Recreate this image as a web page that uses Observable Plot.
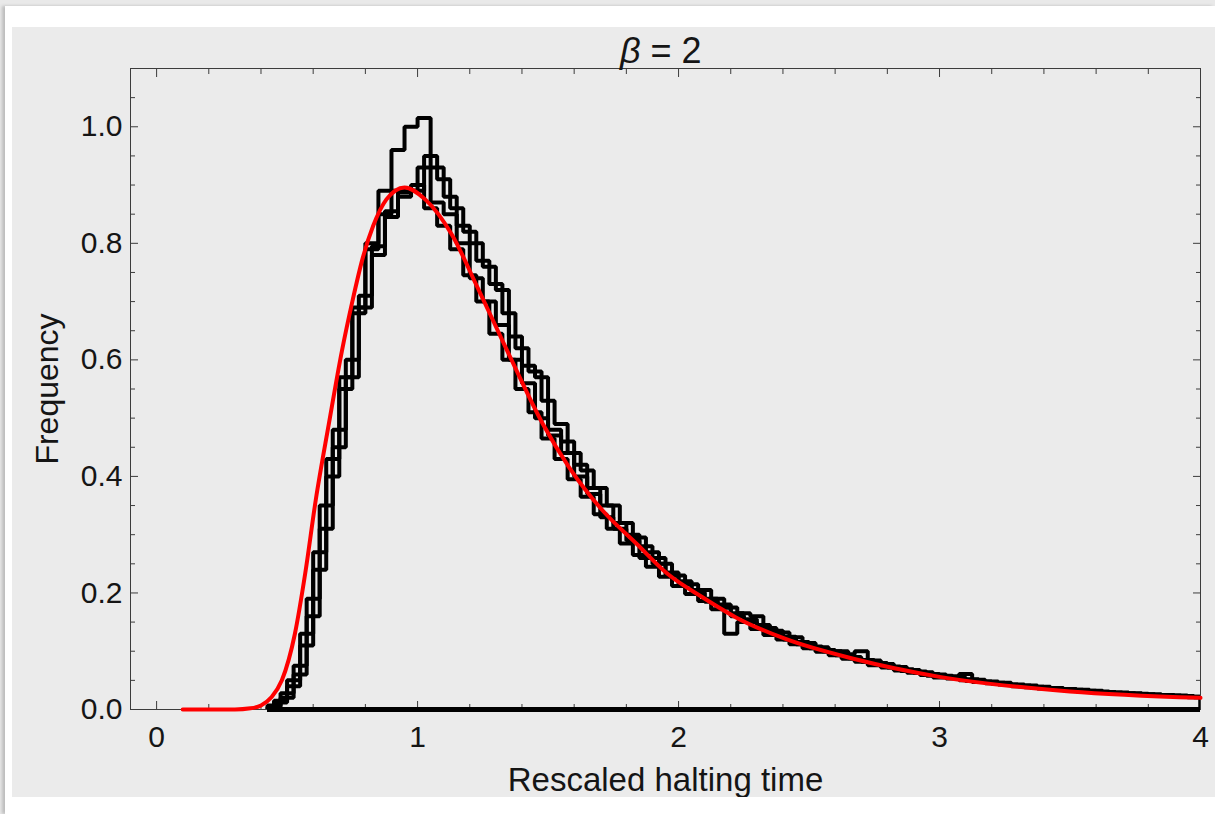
<!DOCTYPE html>
<html><head><meta charset="utf-8">
<script src="https://cdn.jsdelivr.net/npm/d3@7"></script>
<script src="https://cdn.jsdelivr.net/npm/@observablehq/plot@0.6"></script>
<style>
html,body{margin:0;padding:0;background:#e9e9e9;width:1215px;height:814px;overflow:hidden;}
#card{position:absolute;left:5px;top:6px;width:1210px;height:808px;background:#fff;box-shadow:-3px 0 3px #bdbdbd;}
#panel{position:absolute;left:12px;top:27px;width:1203px;height:770px;background:#ebebeb;overflow:hidden;}
#chart{position:absolute;left:-12px;top:-27px;width:1215px;height:814px;}
#chart svg{max-width:none !important;}
</style></head>
<body><div id="card"></div><div id="panel"><div id="chart"></div></div>
<script>
// ---- data ----
const binWidth = 0.05;
const histStarts = [0.45, 0.45, 0.425, 0.425];
const hist1 = [.015,.05,.13,.27,.43,.57,.68,.79,.85,.96,1.00,1.015,.87,.85,.80,.74,.70,.66,.60,.56,.50,.47,.44,.40,.37,.33,.31,.29,.26,.25,.23,.215,.20,.185,.175,.16,.15,.14,.13,.12,.112,.105,.10,.093,.088,.082,.077,.072,.066,.063,.058,.056,.054,.049,.047,.044,.042,.040,.037,.036,.034,.033,.031,.029,.028,.027,.026,.025,.024,.023,.021];
const hist2 = [.012,.04,.11,.24,.40,.55,.69,.80,.89,.89,.89,.93,.93,.88,.83,.80,.76,.72,.64,.59,.57,.48,.46,.42,.38,.35,.32,.30,.28,.26,.235,.22,.205,.19,.18,.165,.155,.145,.135,.125,.116,.108,.102,.10,.09,.085,.08,.074,.069,.065,.061,.058,.055,.052,.048,.046,.043,.041,.039,.037,.035,.034,.032,.031,.029,.028,.027,.026,.025,.024,.022];
const hist3 = [.007,.028,.075,.19,.35,.48,.60,.71,.795,.855,.887,.90,.86,.83,.79,.745,.70,.645,.60,.55,.51,.465,.43,.395,.365,.335,.31,.285,.265,.245,.228,.212,.198,.186,.172,.13,.15,.138,.128,.12,.112,.105,.099,.093,.087,.082,.076,.072,.067,.063,.059,.055,.053,.05,.047,.045,.043,.04,.038,.036,.035,.033,.031,.03,.029,.027,.026,.025,.024,.023,.022,.021];
const hist4 = [.004,.02,.06,.16,.31,.45,.57,.69,.78,.845,.88,.89,.95,.91,.86,.82,.77,.73,.68,.62,.58,.53,.49,.44,.41,.38,.35,.32,.295,.27,.25,.23,.215,.205,.19,.175,.165,.16,.14,.132,.124,.114,.107,.10,.095,.10,.084,.078,.073,.068,.064,.06,.057,.061,.051,.048,.046,.043,.041,.039,.037,.035,.034,.032,.030,.029,.028,.026,.025,.024,.023,.022];
const histograms = [hist1, hist2, hist3, hist4];

const curveX = [0.10,0.30,0.36,0.40,0.44,0.48,0.53,0.57,0.61,0.66,0.71,0.75,0.79,0.83,0.88,0.95,1.03,1.13,1.23,1.34,1.48,1.58,1.71,1.84,1.96,2.09,2.22,2.41,2.67,3.00,3.50,4.00];
const curveY = [0,0,0.002,0.007,0.021,0.05,0.13,0.235,0.36,0.49,0.615,0.70,0.775,0.83,0.875,0.896,0.875,0.816,0.724,0.619,0.49,0.416,0.341,0.284,0.232,0.193,0.158,0.121,0.087,0.056,0.031,0.020];

const xMajor = [0, 1, 2, 3, 4];
const xTickLabels = ["0", "1", "2", "3", "4"];
const xMinor = [0.2,0.4,0.6,0.8,1.2,1.4,1.6,1.8,2.2,2.4,2.6,2.8,3.2,3.4,3.6,3.8];
const yMajor = [0, 0.2, 0.4, 0.6, 0.8, 1.0];
const yTickLabels = ["0.0", "0.2", "0.4", "0.6", "0.8", "1.0"];
const yMinor = [0.05,0.1,0.15,0.25,0.3,0.35,0.45,0.5,0.55,0.65,0.7,0.75,0.85,0.9,0.95,1.05];
const xDomain = [-0.1, 4];
const yDomain = [0, 1.1];
const titleSymbol = "β";
const titleRest = "= 2";
const xTitle = "Rescaled halting time";
const yTitle = "Frequency";

// ---- build outlines ----
function outline(start, vals) {
  const pts = [{x: start, y: 0}];
  vals.forEach((v, i) => {
    pts.push({x: start + i * binWidth, y: v});
    pts.push({x: start + (i + 1) * binWidth, y: v});
  });
  pts.push({x: start + vals.length * binWidth, y: 0});
  return pts;
}
const outlines = histograms.map((h, k) => outline(histStarts[k], h));
const curve = curveX.map((x, i) => ({x, y: curveY[i]}));

const font = "'Liberation Sans', Arial, Helvetica, sans-serif";
const frameColor = "#3c3c3c";
const textColor = "#151515";

const chart = Plot.plot({
  width: 1215, height: 814,
  marginLeft: 130, marginRight: 15, marginTop: 68, marginBottom: 105,
  x: {domain: xDomain},
  y: {domain: yDomain},
  style: {background: "transparent", fontFamily: font, maxWidth: "none"},
  marks: [
    Plot.frame({stroke: frameColor, strokeWidth: 1}),
    // inward frame ticks
    Plot.axisX(xMajor, {anchor: "bottom", tickSize: -8, tickFormat: () => "", stroke: frameColor, label: null}),
    Plot.axisX(xMinor, {anchor: "bottom", tickSize: -5, tickFormat: () => "", stroke: frameColor, label: null}),
    Plot.axisX(xMajor, {anchor: "top", tickSize: -8, tickFormat: () => "", stroke: frameColor, label: null}),
    Plot.axisX(xMinor, {anchor: "top", tickSize: -5, tickFormat: () => "", stroke: frameColor, label: null}),
    Plot.axisY(yMajor, {anchor: "left", tickSize: -8, tickFormat: () => "", stroke: frameColor, label: null}),
    Plot.axisY(yMinor, {anchor: "left", tickSize: -5, tickFormat: () => "", stroke: frameColor, label: null}),
    Plot.axisY(yMajor, {anchor: "right", tickSize: -8, tickFormat: () => "", stroke: frameColor, label: null}),
    Plot.axisY(yMinor, {anchor: "right", tickSize: -5, tickFormat: () => "", stroke: frameColor, label: null}),
    // tick labels
    Plot.axisX(xMajor, {anchor: "bottom", tickSize: 0, tickPadding: 16, fontSize: 30, fill: textColor,
      tickFormat: d => xTickLabels[xMajor.indexOf(d)], label: null}),
    Plot.axisY(yMajor, {anchor: "left", tickSize: 0, tickPadding: 8, fontSize: 30, fill: textColor,
      tickFormat: d => yTickLabels[yMajor.indexOf(d)], label: null}),
    // histogram baseline
    Plot.ruleY([0], {x1: d3.min(histStarts), x2: xDomain[1], stroke: "black", strokeWidth: 5}),
    // histograms
    ...outlines.map(o => Plot.line(o, {x: "x", y: "y", stroke: "black", strokeWidth: 4, strokeLinejoin: "miter", clip: true})),
    // theoretical curve
    Plot.line(curve, {x: "x", y: "y", stroke: "#ff0000", strokeWidth: 4, curve: "monotone-x"}),
    // titles
    Plot.text([titleSymbol], {frameAnchor: "top", lineAnchor: "middle", dy: -17, dx: -25, textAnchor: "end", fontSize: 36, fontStyle: "italic", fill: textColor, fontFamily: font}),
    Plot.text([titleRest], {frameAnchor: "top", lineAnchor: "middle", dy: -17, dx: -15, textAnchor: "start", fontSize: 36, fill: textColor, fontFamily: font}),
    Plot.text([xTitle], {frameAnchor: "bottom", lineAnchor: "middle", textAnchor: "middle", dy: 71, fontSize: 33, fill: textColor, fontFamily: font}),
    Plot.text([yTitle], {frameAnchor: "left", lineAnchor: "middle", textAnchor: "middle", dx: -83, rotate: -90, fontSize: 32, fill: textColor, fontFamily: font})
  ]
});
document.getElementById("chart").appendChild(chart);
</script>
</body></html>
